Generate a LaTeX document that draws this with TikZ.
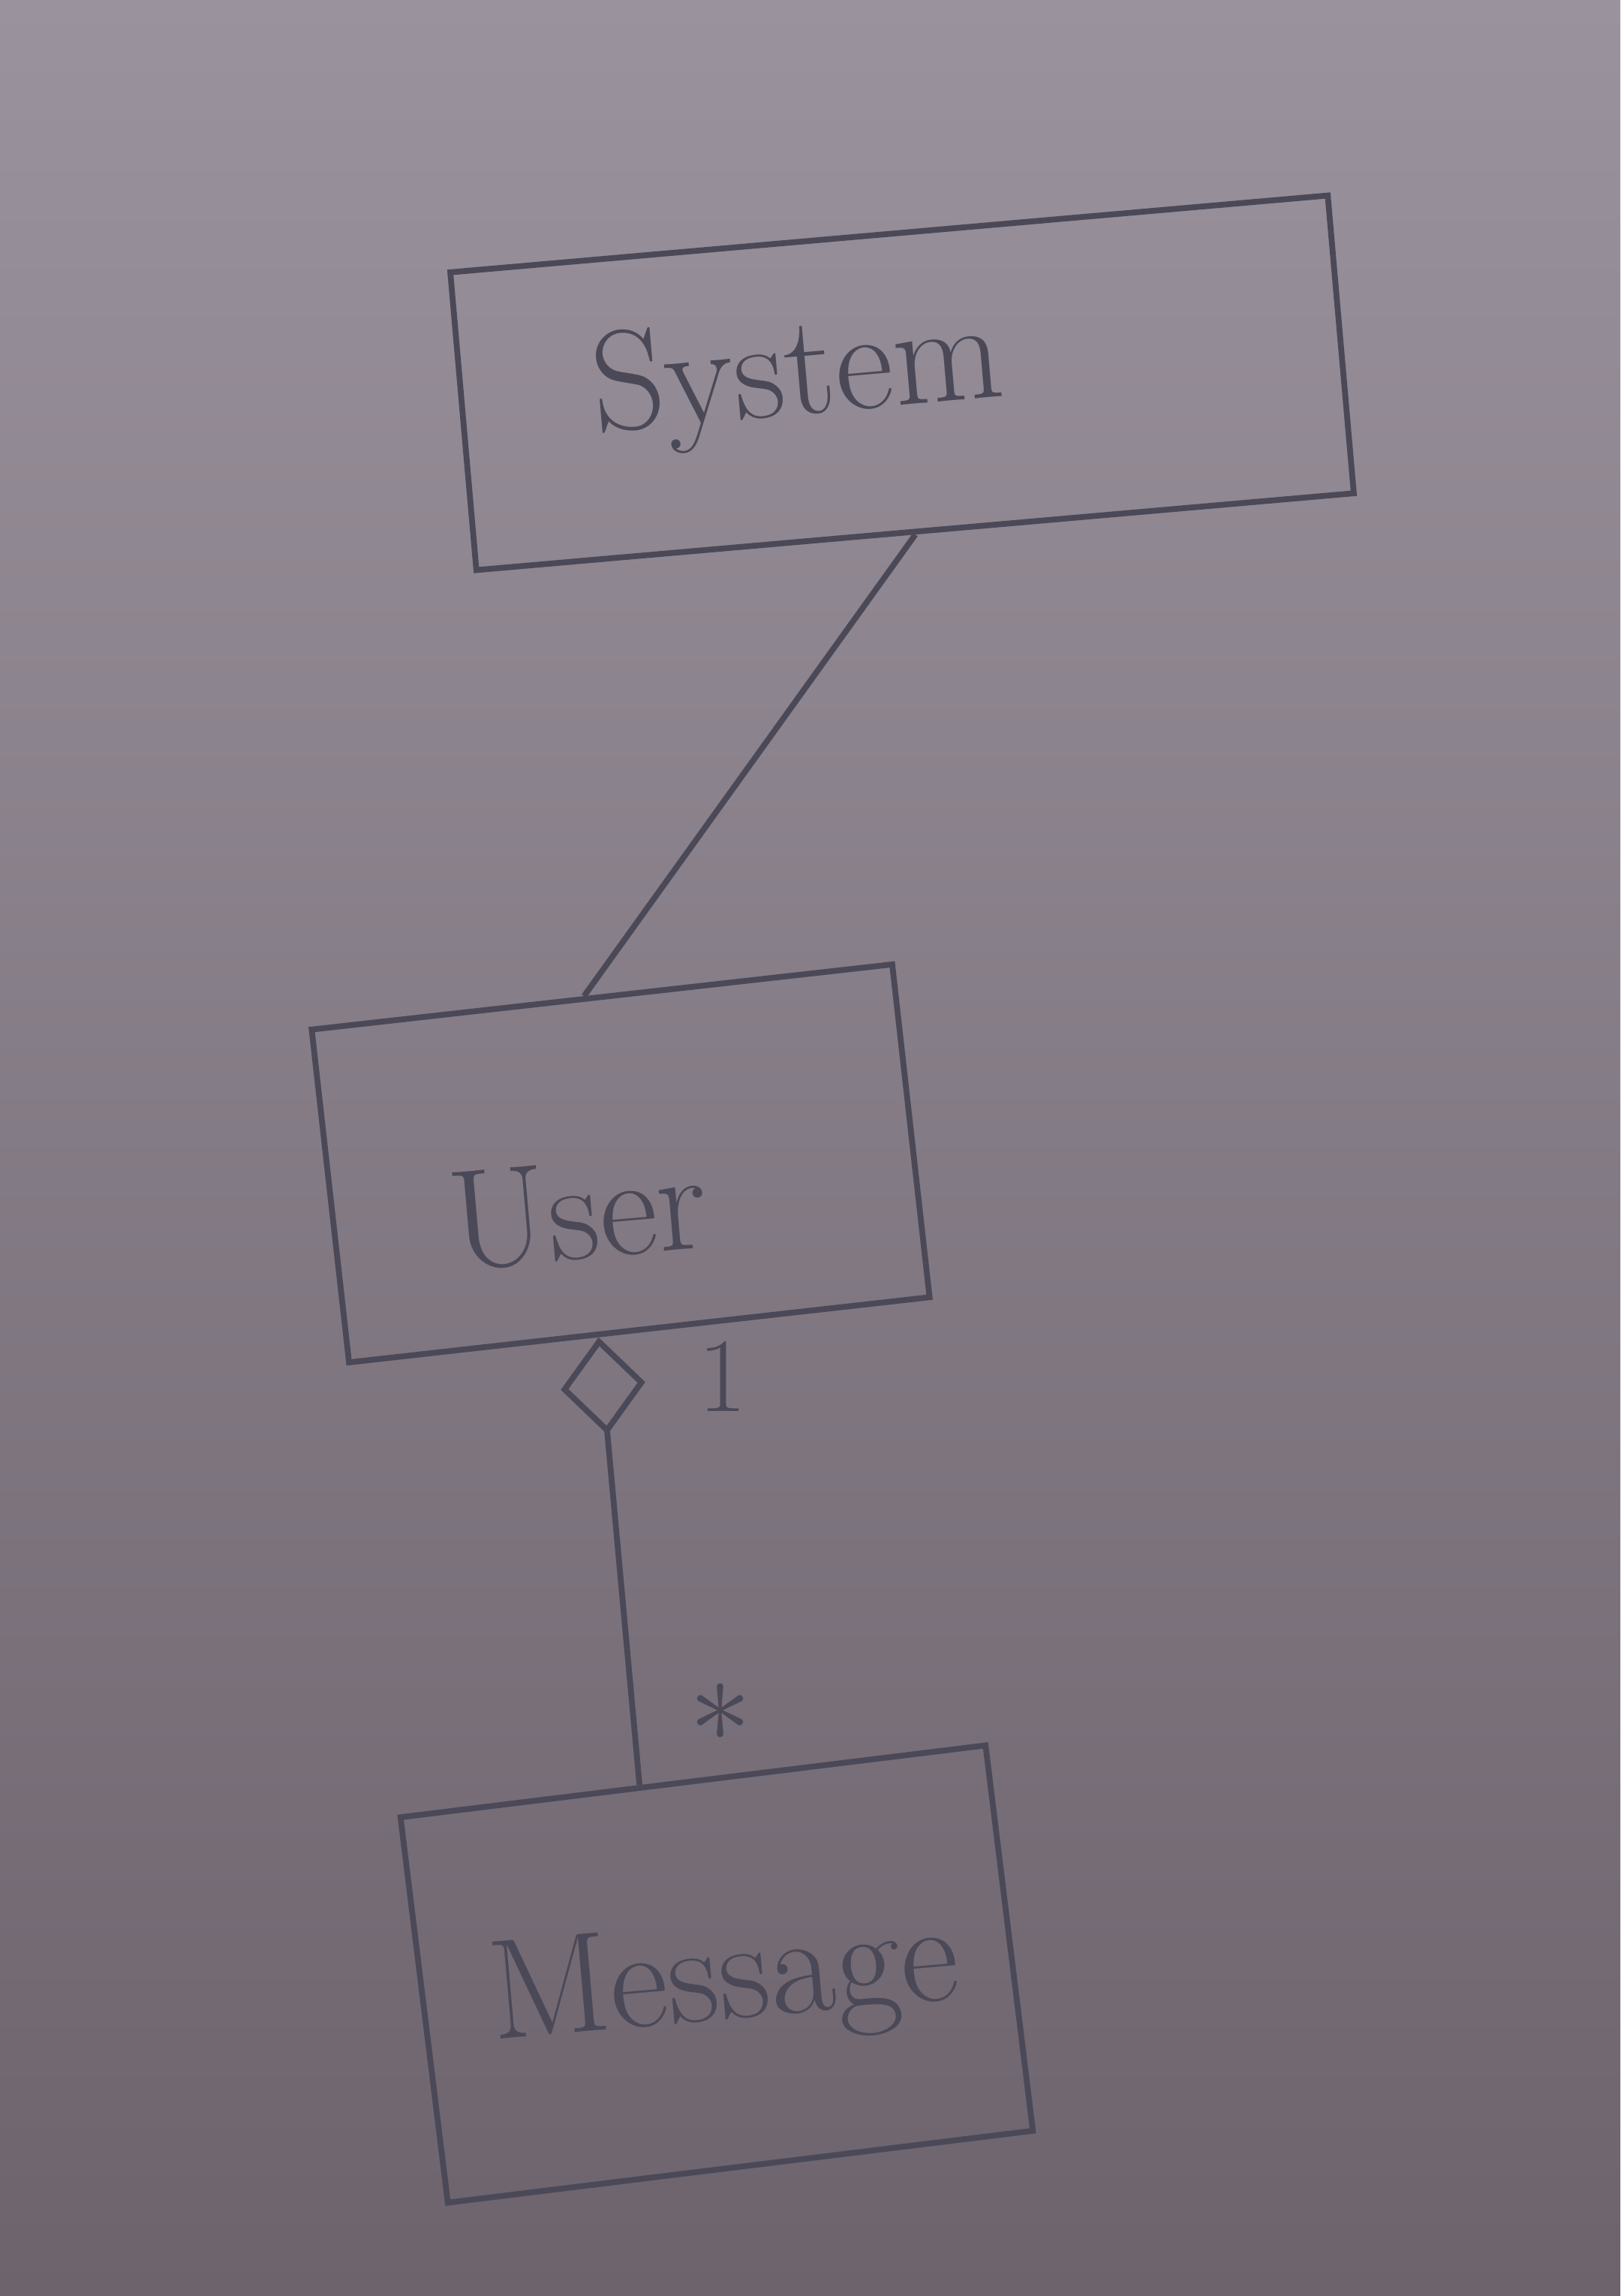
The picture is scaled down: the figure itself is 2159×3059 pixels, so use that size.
\documentclass[tikz,border=0pt]{standalone}
\usepackage{fontspec}
\usetikzlibrary{arrows.meta,calc}
\definecolor{ink}{HTML}{4B4958}
\definecolor{boardtop}{HTML}{9A929C}
\definecolor{boardbot}{HTML}{6C636D}
\begin{document}
\begin{tikzpicture}[x=0.01cm,y=-0.01cm]

    \tikzset{
      classbox/.style={
        draw=ink,
        line width=2.2pt,
        rectangle,
        inner sep=0pt,
      },
      hand/.style={
        text=ink,
        font=\fontsize{54}{60}\selectfont,
        inner sep=0pt,
        rotate=5,
      },
      mult/.style={
        text=ink,
        font=\fontsize{40}{44}\selectfont,
        inner sep=0pt,
      },
      conn/.style={
        draw=ink,
        line width=2.2pt,
      },
    }
    \useasboundingbox (0,0) rectangle (2159,3059);
    \shade[top color=boardtop, bottom color=boardbot] (0,0) rectangle (2159,3059);

	\node[classbox, minimum width=11.73cm, minimum height=3.98cm, rotate=5] (sys) at (1202,510) {};
	\node[classbox, minimum width=7.78cm, minimum height=4.46cm, rotate=6.4] (usr) at (827,1550) {};
	\node[classbox, minimum width=7.85cm, minimum height=5.17cm, rotate=7] (msg) at (955,2630) {};

	\node[hand] (systxt) at (1063,505) {System};
	\node[hand] (usrtxt) at (770,1614) {User};
	\node[hand] (msgtxt) at (965,2645) {Message};

	\draw[conn] (sys.south) -- ($(usr.north west)!0.47!(usr.north east)$);
	\draw[conn, {Diamond[open,length=1.3cm,width=1.13cm]}-] ($(usr.south west)!0.43!(usr.south east)$) -- ($(msg.north west)!0.41!(msg.north east)$);

	\node[mult] (one) at (963,1834) {1};
	\node[mult, scale=1.9] (many) at (960,2282) {$\ast$};

\end{tikzpicture}
\end{document}
